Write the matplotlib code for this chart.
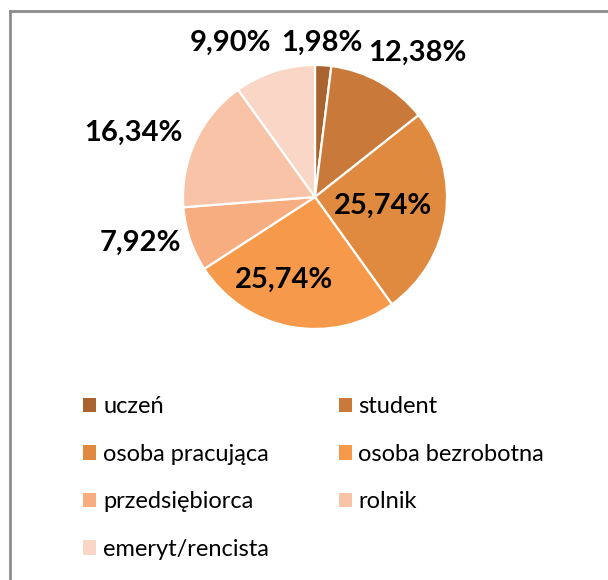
import matplotlib

matplotlib.use("Agg")
import matplotlib.pyplot as plt
import numpy as np
from matplotlib.lines import Line2D
from matplotlib.patches import Patch

categories = [
    "uczeń",
    "student",
    "osoba pracująca",
    "osoba bezrobotna",
    "przedsiębiorca",
    "rolnik",
    "emeryt/rencista",
]
shares = [1.98, 12.38, 25.74, 25.74, 7.92, 16.34, 9.90]
colors = ["#A8632E", "#C97A3A", "#E08A40", "#F6994A", "#F7AD80", "#F8C3A6", "#F9D6C6"]

# label placement (radius as fraction of pie radius, angle nudge in degrees)
label_radius = [1.17, 1.34, 0.52, 0.67, 1.37, 1.46, 1.33]
label_nudge = [1.0, -6.0, 0.5, -10.0, -4.0, 5.5, 11.0]

W, H = 608, 580
fig = plt.figure(figsize=(W / 100, H / 100), dpi=100)
plt.rcParams["font.family"] = ["Lato", "DejaVu Sans"]

cx, cy, R = 315, 197, 132
lim = 1.6
half = R * lim
ax = fig.add_axes([(cx - half) / W, (H - cy - half) / H, 2 * half / W, 2 * half / H])

wedges, _ = ax.pie(
    shares,
    colors=colors,
    startangle=90,
    counterclock=False,
    radius=1.0,
    wedgeprops=dict(edgecolor="white", linewidth=1.6),
)
# pie() resets the limits, so set them afterwards
ax.set_xlim(-lim, lim)
ax.set_ylim(-lim, lim)
ax.set_aspect("equal")
ax.axis("off")

for w, val, r, nudge in zip(wedges, shares, label_radius, label_nudge):
    mid = np.deg2rad((w.theta1 + w.theta2) / 2 + nudge)
    ax.text(
        r * np.cos(mid),
        r * np.sin(mid),
        f"{val:.2f}%".replace(".", ","),
        ha="center",
        va="center",
        fontsize=21,
        fontweight="bold",
        color="black",
    )

# legend filled row by row
order = [0, 2, 4, 6, 1, 3, 5]
handles = [Patch(facecolor=colors[i], edgecolor="none") for i in order]
labels = [categories[i] for i in order]
fig.legend(
    handles,
    labels,
    ncol=2,
    loc="upper left",
    bbox_to_anchor=(74 / W, 1 - 387 / H),
    frameon=False,
    fontsize=17,
    handlelength=0.55,
    handleheight=0.55,
    handletextpad=0.28,
    labelspacing=1.12,
    columnspacing=2.95,
    borderaxespad=0,
)

# chart frame (left and top edges visible)
fig.add_artist(Line2D([10 / W, 10 / W], [0, 1 - 11 / H], color="#8C8C8C", lw=2,
                      transform=fig.transFigure))
fig.add_artist(Line2D([10 / W, 1], [1 - 11 / H, 1 - 11 / H], color="#8C8C8C", lw=2,
                      transform=fig.transFigure))

fig.savefig("out.png", dpi=100)
